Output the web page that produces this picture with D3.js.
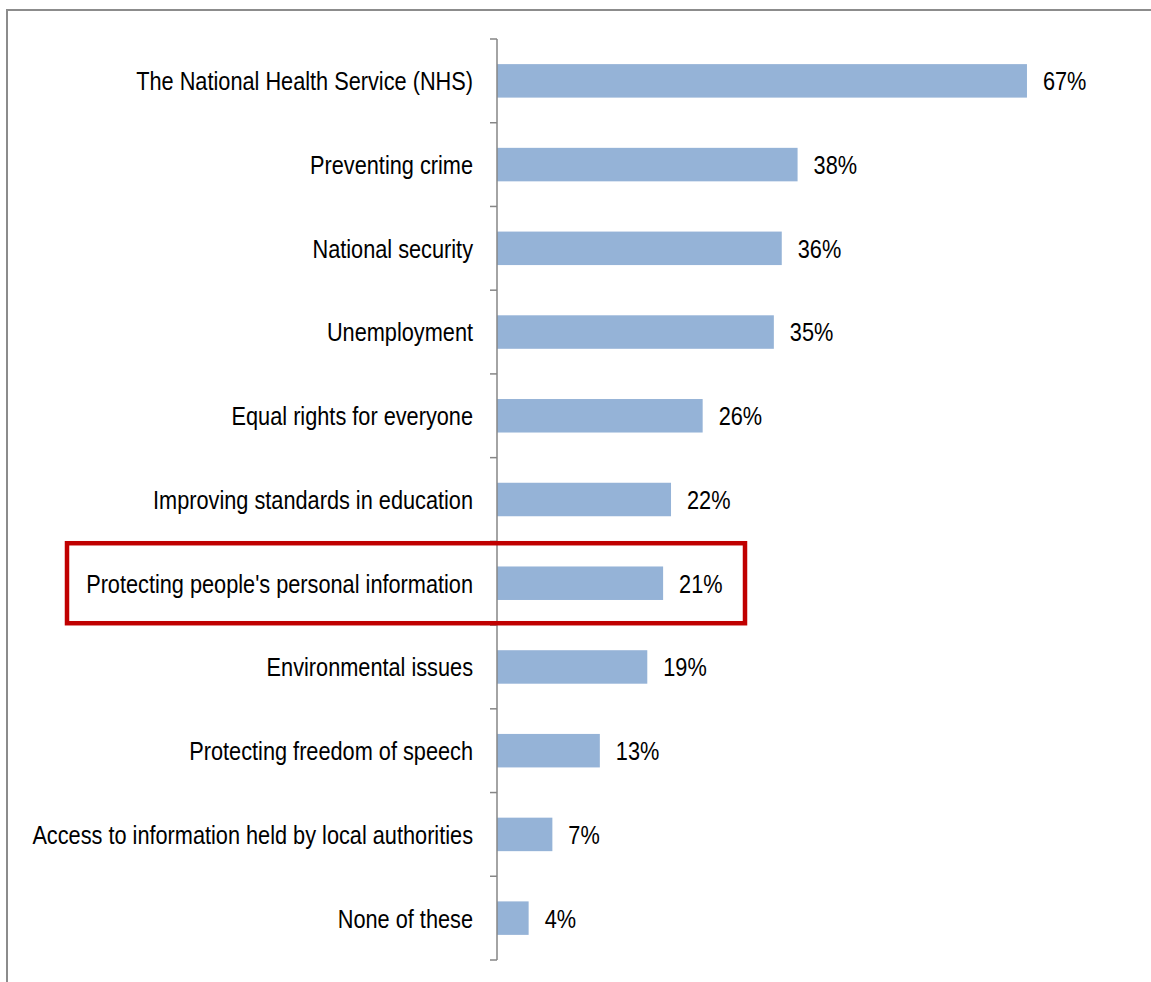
<!DOCTYPE html>
<html>
<head>
<meta charset="utf-8">
<script src="https://cdn.jsdelivr.net/npm/d3@7"></script>
<style>
  html, body { margin: 0; padding: 0; background: #fff; }
  svg { display: block; }
</style>
</head>
<body>
<svg id="chart" width="1151" height="982"></svg>
<script>
// Share of respondents naming each issue
const categories = [
  "The National Health Service (NHS)",
  "Preventing crime",
  "National security",
  "Unemployment",
  "Equal rights for everyone",
  "Improving standards in education",
  "Protecting people's personal information",
  "Environmental issues",
  "Protecting freedom of speech",
  "Access to information held by local authorities",
  "None of these"
];
const values = [67, 38, 36, 35, 26, 22, 21, 19, 13, 7, 4];
const highlighted = "Protecting people's personal information";

const svg = d3.select("#chart");
const W = 1151, H = 982;

const FONT = "'Liberation Sans', Arial, sans-serif";
const FS = 26.5;      // font size
const SX = 0.82;      // narrow face: horizontal compression

// outer frame (top and left edges visible)
svg.append("rect")
  .attr("x", 7).attr("y", 10)
  .attr("width", W + 20).attr("height", H + 20)
  .attr("fill", "none")
  .attr("stroke", "#8c8c8c")
  .attr("stroke-width", 2);

const axisX = 497;
const y = d3.scaleBand()
  .domain(categories)
  .range([39, 960])
  .paddingInner(0.6)
  .paddingOuter(0.3);

const x = d3.scaleLinear().domain([0, 100]).range([axisX, axisX + 791]);

// bars
svg.append("g").selectAll("rect")
  .data(categories)
  .join("rect")
  .attr("x", x(0))
  .attr("y", d => y(d))
  .attr("width", (d, i) => x(values[i]) - x(0))
  .attr("height", y.bandwidth())
  .attr("fill", "#95b3d7");

// category axis: line plus ticks at band boundaries
const axis = svg.append("g").attr("stroke", "#868686").attr("stroke-width", 1.5);
const [r0, r1] = y.range();
axis.append("line")
  .attr("x1", axisX).attr("x2", axisX)
  .attr("y1", r0).attr("y2", r1);
axis.selectAll("line.tick")
  .data(d3.range(categories.length + 1))
  .join("line")
  .attr("class", "tick")
  .attr("x1", axisX - 7).attr("x2", axisX)
  .attr("y1", k => r0 + k * y.step())
  .attr("y2", k => r0 + k * y.step());

const mid = d => y(d) + y.bandwidth() / 2;
const baseline = d => mid(d) + FS * 0.355;

// category labels (right aligned to the left of the axis)
svg.append("g")
  .attr("transform", `scale(${SX},1)`)
  .selectAll("text")
  .data(categories)
  .join("text")
  .attr("x", 473 / SX)
  .attr("y", baseline)
  .attr("text-anchor", "end")
  .attr("font-family", FONT)
  .attr("font-size", FS)
  .attr("fill", "#000")
  .text(d => d);

// value labels
svg.append("g")
  .attr("transform", `scale(${SX},1)`)
  .selectAll("text")
  .data(categories)
  .join("text")
  .attr("x", (d, i) => (x(values[i]) + 16) / SX)
  .attr("y", baseline)
  .attr("font-family", FONT)
  .attr("font-size", FS)
  .attr("fill", "#000")
  .text((d, i) => values[i] + "%");

// highlight box around the personal information row
const hc = mid(highlighted);
svg.append("rect")
  .attr("x", 67)
  .attr("y", hc - 40)
  .attr("width", 745 - 67)
  .attr("height", 80)
  .attr("fill", "none")
  .attr("stroke", "#c00000")
  .attr("stroke-width", 4.5);
</script>
</body>
</html>
